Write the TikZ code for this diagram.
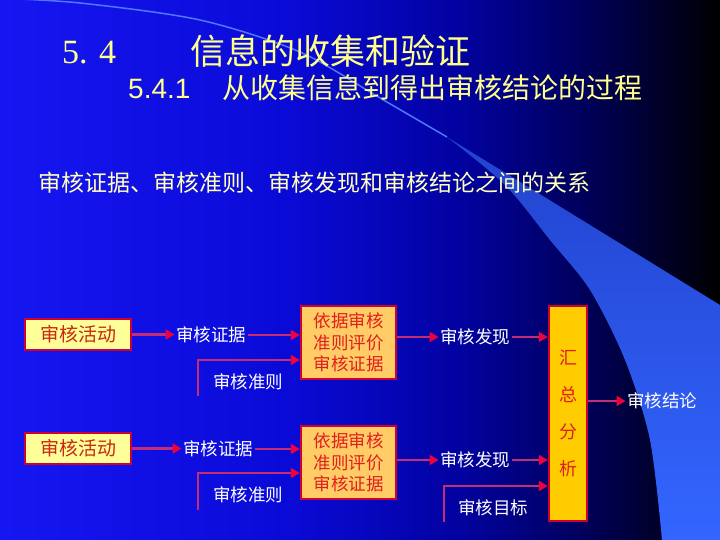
\documentclass[tikz,border=0pt]{standalone}
\usepackage{fontspec}
\setmainfont{Noto Sans CJK SC}
\newfontfamily\serfont{Liberation Serif}
\newfontfamily\arialfont{Liberation Sans}
\usetikzlibrary{arrows.meta,calc}
\definecolor{bgA}{RGB}{22,22,242}
\definecolor{bgB}{RGB}{10,10,215}
\definecolor{bgC}{RGB}{2,2,160}
\definecolor{bgD}{RGB}{0,0,95}
\definecolor{bgE}{RGB}{0,0,30}
\definecolor{swoosh}{RGB}{51,102,255}
\definecolor{swooshdark}{RGB}{34,66,205}
\definecolor{thinline}{RGB}{80,120,255}
\definecolor{titlec}{RGB}{255,255,140}
\definecolor{linec}{RGB}{255,255,190}
\definecolor{lnc}{RGB}{195,45,120}
\definecolor{tipc}{RGB}{240,0,60}
\definecolor{bord}{RGB}{204,0,51}
\definecolor{yelA}{RGB}{255,255,153}
\definecolor{orgB}{RGB}{255,204,102}
\definecolor{goldC}{RGB}{255,204,0}
\definecolor{txtA}{RGB}{200,40,20}
\definecolor{txtB}{RGB}{225,30,30}
\pgfdeclarehorizontalshading{bgshade}{100bp}{color(0bp)=(bgA); color(25bp)=(bgA); color(45bp)=(bgB); color(57bp)=(bgC); color(65bp)=(bgD); color(72bp)=(bgE); color(75bp)=(black); color(100bp)=(black)}
\tikzset{
  conn/.style={draw=lnc, line width=2.5pt, -{Triangle[length=9pt,width=10pt,color=tipc]}},
  boxA/.style={draw=bord, line width=2.5pt, fill=yelA, text=txtA, minimum width=106pt, minimum height=31pt, inner sep=0pt, font=\fontsize{19}{19}\selectfont},
  boxB/.style={draw=bord, line width=2.5pt, fill=orgB, text=txtB, minimum width=95pt, minimum height=73pt, inner sep=0pt, align=center, font=\fontsize{17.5}{21.5}\selectfont},
  boxC/.style={draw=bord, line width=2.5pt, fill=goldC, text=txtB, minimum width=38pt, minimum height=215pt, inner sep=0pt, align=center, font=\fontsize{18}{37}\selectfont},
  lab/.style={text=white, inner sep=1.5pt, anchor=west, font=\fontsize{17.5}{17.5}\selectfont},
}
\begin{document}
\begin{tikzpicture}[x=1pt,y=-1pt]
\useasboundingbox (0,0) rectangle (720,540);
\shade[shading=bgshade] (0,0) rectangle (720,540);
% decorative swoosh
\shade[top color=swooshdark, middle color=swoosh, bottom color=swoosh] (447,137) -- (720,305) -- (720,540) -- plot[smooth] coordinates {(662,540) (650,440) (625,360) (590,290) (550,240) (505,185) (447,137)} -- cycle;
\draw[thinline, line width=1.5pt] plot[smooth] coordinates {(-5,-2) (80,3) (200,20) (300,52) (380,98) (447,137)};
% titles
\node[anchor=base west, inner sep=0, text=titlec, font=\serfont\fontsize{34}{34}\selectfont] (t1n) at (62,64) {5. 4};
\node[anchor=base west, inner sep=0, text=titlec, font=\fontsize{35}{35}\selectfont] (t1) at (190,65) {信息的收集和验证};
\node[anchor=base west, inner sep=0, text=titlec, font=\arialfont\fontsize{28}{28}\selectfont] (t2n) at (128,98.5) {5.4.1};
\node[anchor=base west, inner sep=0, text=titlec, font=\fontsize{28}{28}\selectfont] (t2) at (222,98.5) {从收集信息到得出审核结论的过程};
\node[anchor=base west, inner sep=0, text=linec, font=\fontsize{23}{23}\selectfont] (t3) at (38,191.5) {审核证据、审核准则、审核发现和审核结论之间的关系};
% row 1
\node[boxA] (actA) at (78,334.5) {审核活动};
\node[lab] (evA) at (174.5,335) {审核证据};
\node[lab] (crA) at (211.5,382) {审核准则};
\node[boxB] (evalA) at (348.5,342.5) {依据审核\\准则评价\\审核证据};
\node[lab] (fdA) at (438.5,337) {审核发现};
% big box
\node[boxC] (sum) at (568,413.5) {汇\\总\\分\\析};
\node[lab] (concl) at (625.5,401) {审核结论};
% row 2
\node[boxA] (actB) at (78,448.5) {审核活动};
\node[lab] (evB) at (181.5,449) {审核证据};
\node[lab] (crB) at (211.5,495) {审核准则};
\node[boxB] (evalB) at (348.5,462.5) {依据审核\\准则评价\\审核证据};
\node[lab] (fdB) at (438.5,460) {审核发现};
\node[lab] (tgt) at (456.5,508) {审核目标};
% branch coordinates
\coordinate (cA0) at (198,396);
\coordinate (cA1) at (198,360);
\coordinate (cB0) at (198,510);
\coordinate (cB1) at (198,473);
\coordinate (tg0) at (444,522);
\coordinate (tg1) at (444,486);
% connectors row 1
\draw[conn] (actA.east) -- (actA.east -| evA.west);
\draw[conn] (evA.east) -- (evA.east -| evalA.west);
\draw[conn] (cA0) -- (cA1) -- (cA1 -| evalA.west);
\draw[conn] (fdA.west -| evalA.east) -- (fdA.west);
\draw[conn] (fdA.east) -- (fdA.east -| sum.west);
\draw[conn] (concl.west -| sum.east) -- (concl.west);
% connectors row 2
\draw[conn] (actB.east) -- (actB.east -| evB.west);
\draw[conn] (evB.east) -- (evB.east -| evalB.west);
\draw[conn] (cB0) -- (cB1) -- (cB1 -| evalB.west);
\draw[conn] (fdB.west -| evalB.east) -- (fdB.west);
\draw[conn] (fdB.east) -- (fdB.east -| sum.west);
\draw[conn] (tg0) -- (tg1) -- (tg1 -| sum.west);
\end{tikzpicture}
\end{document}
